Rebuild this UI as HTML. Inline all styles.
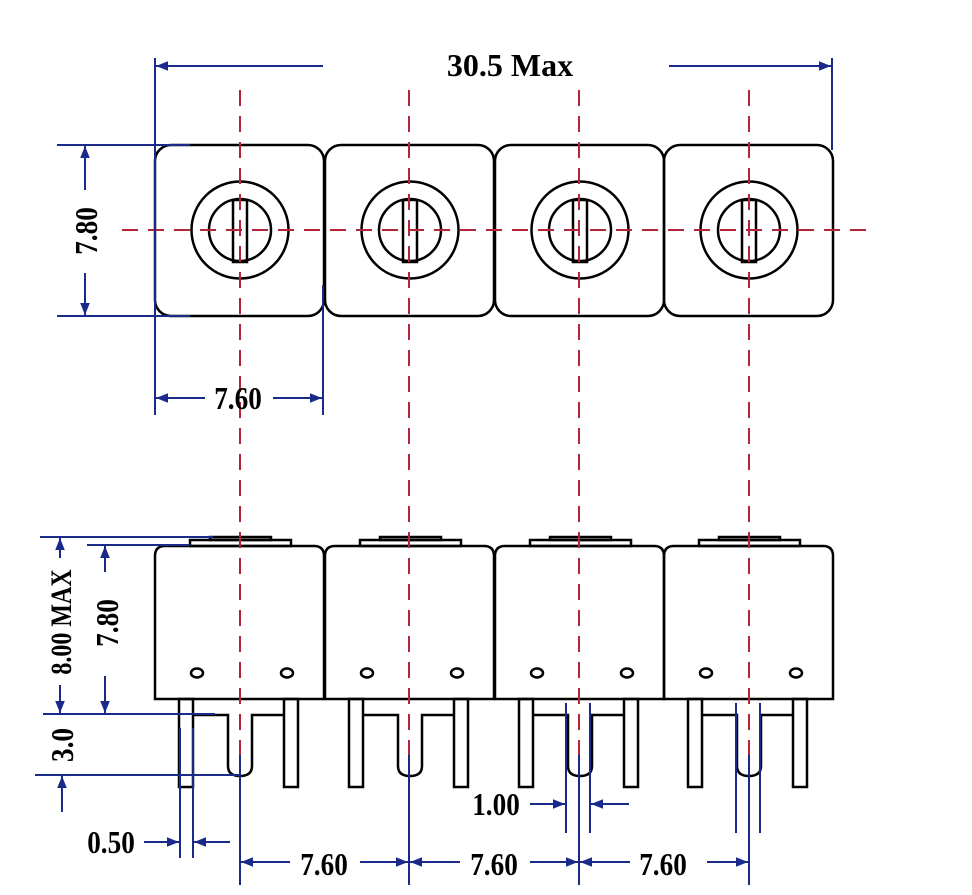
<!DOCTYPE html>
<html><head><meta charset="utf-8"><style>
html,body{margin:0;padding:0;background:#fff}
svg{display:block}
.t{font-family:"Liberation Serif",serif;font-weight:bold;fill:#000}
</style></head><body>
<svg width="972" height="895" viewBox="0 0 972 895" xmlns="http://www.w3.org/2000/svg">
<defs>
<marker id="a" viewBox="0 0 10 10" refX="10" refY="5" markerWidth="12" markerHeight="12" markerUnits="userSpaceOnUse" orient="auto-start-reverse"><path d="M0,1 L10,5 L0,9 z" fill="#1a2a8a"/></marker>
<g id="top">
<rect x="155" y="145" width="169" height="171" rx="16" fill="none" stroke="#000" stroke-width="2.5"/>
<circle cx="240" cy="230" r="48.5" fill="none" stroke="#000" stroke-width="2.5"/>
<circle cx="240" cy="230" r="31" fill="none" stroke="#000" stroke-width="2.5"/>
<rect x="233" y="200" width="14" height="62" fill="none" stroke="#000" stroke-width="2.5"/>
</g>
<g id="bot" fill="none" stroke="#000" stroke-width="2.5">
<path d="M155,699 V556 Q155,546 165,546 H314 Q324,546 324,556 V699 Z"/>
<rect x="190" y="540" width="101" height="6"/>
<rect x="210" y="537" width="61" height="3"/>
<ellipse cx="197" cy="673" rx="6" ry="4.5"/>
<ellipse cx="287" cy="673" rx="6" ry="4.5"/>
<rect x="179" y="699" width="14" height="88"/>
<rect x="284" y="699" width="14" height="88"/>
<path d="M193,715 H228 V766 Q228,776 240,776 Q252,776 252,766 V715 H284"/>
</g>
</defs>

<use href="#top"/><use href="#top" x="170"/><use href="#top" x="340"/><use href="#top" x="509"/>
<use href="#bot"/><use href="#bot" x="170"/><use href="#bot" x="340"/><use href="#bot" x="509"/>

<g stroke="#b5253a" stroke-width="2" stroke-dasharray="16,10" fill="none">
<line x1="122" y1="230" x2="866" y2="230"/>
<line x1="240" y1="90" x2="240" y2="755"/>
<line x1="409" y1="90" x2="409" y2="755"/>
<line x1="579" y1="90" x2="579" y2="755"/>
<line x1="749" y1="90" x2="749" y2="755"/>
</g>

<g stroke="#1a2a8a" stroke-width="2" fill="none">
<line x1="155" y1="58" x2="155" y2="415"/>
<line x1="832" y1="58" x2="832" y2="150"/>
<line x1="323" y1="66" x2="156" y2="66" marker-end="url(#a)"/>
<line x1="669" y1="66" x2="831" y2="66" marker-end="url(#a)"/>
<line x1="57" y1="145" x2="190" y2="145"/>
<line x1="57" y1="316" x2="190" y2="316"/>
<line x1="85" y1="190" x2="85" y2="146" marker-end="url(#a)"/>
<line x1="85" y1="273" x2="85" y2="315" marker-end="url(#a)"/>
<line x1="323" y1="285" x2="323" y2="415"/>
<line x1="205" y1="398" x2="156" y2="398" marker-end="url(#a)"/>
<line x1="273" y1="398" x2="322" y2="398" marker-end="url(#a)"/>
<line x1="40" y1="537" x2="213" y2="537"/>
<line x1="87" y1="545" x2="190" y2="545"/>
<line x1="43" y1="714" x2="215" y2="714"/>
<line x1="35" y1="775" x2="240" y2="775"/>
<line x1="60" y1="558" x2="60" y2="538" marker-end="url(#a)"/>
<line x1="60" y1="685" x2="60" y2="713" marker-end="url(#a)"/>
<line x1="105" y1="572" x2="105" y2="546" marker-end="url(#a)"/>
<line x1="105" y1="676" x2="105" y2="713" marker-end="url(#a)"/>
<line x1="62" y1="812" x2="62" y2="776" marker-end="url(#a)"/>
<line x1="180" y1="728" x2="180" y2="858"/>
<line x1="193" y1="728" x2="193" y2="858"/>
<line x1="144" y1="842" x2="179" y2="842" marker-end="url(#a)"/>
<line x1="230" y1="842" x2="194" y2="842" marker-end="url(#a)"/>
<line x1="240" y1="755" x2="240" y2="885"/>
<line x1="409" y1="755" x2="409" y2="885"/>
<line x1="579" y1="755" x2="579" y2="885"/>
<line x1="749" y1="755" x2="749" y2="885"/>
<line x1="290" y1="862" x2="241" y2="862" marker-end="url(#a)"/>
<line x1="360" y1="862" x2="408" y2="862" marker-end="url(#a)"/>
<line x1="460" y1="862" x2="410" y2="862" marker-end="url(#a)"/>
<line x1="530" y1="862" x2="578" y2="862" marker-end="url(#a)"/>
<line x1="630" y1="862" x2="580" y2="862" marker-end="url(#a)"/>
<line x1="707" y1="862" x2="748" y2="862" marker-end="url(#a)"/>
<line x1="566" y1="703" x2="566" y2="833"/>
<line x1="590" y1="703" x2="590" y2="833"/>
<line x1="736" y1="703" x2="736" y2="833"/>
<line x1="760" y1="703" x2="760" y2="833"/>
<line x1="530" y1="804" x2="565" y2="804" marker-end="url(#a)"/>
<line x1="629" y1="804" x2="591" y2="804" marker-end="url(#a)"/>
</g>

<text x="510" y="76" text-anchor="middle" font-family="Liberation Serif,serif" font-weight="bold" font-size="32">30.5 Max</text>
<text class="t" font-size="32" text-anchor="middle" transform="translate(238,409) scale(0.85,1)">7.60</text>
<text class="t" font-size="32" text-anchor="middle" transform="translate(97,231) rotate(-90) scale(0.85,1)">7.80</text>
<text class="t" font-size="30" text-anchor="middle" transform="translate(71,622) rotate(-90) scale(0.8,1)">8.00 MAX</text>
<text class="t" font-size="32" text-anchor="middle" transform="translate(118,623) rotate(-90) scale(0.85,1)">7.80</text>
<text class="t" font-size="32" text-anchor="middle" transform="translate(73,745) rotate(-90) scale(0.85,1)">3.0</text>
<text class="t" font-size="32" text-anchor="middle" transform="translate(111,853) scale(0.85,1)">0.50</text>
<text class="t" font-size="32" text-anchor="middle" transform="translate(324,875) scale(0.85,1)">7.60</text>
<text class="t" font-size="32" text-anchor="middle" transform="translate(494,875) scale(0.85,1)">7.60</text>
<text class="t" font-size="32" text-anchor="middle" transform="translate(663,875) scale(0.85,1)">7.60</text>
<text class="t" font-size="32" text-anchor="middle" transform="translate(496,815) scale(0.85,1)">1.00</text>
</svg>
</body></html>
